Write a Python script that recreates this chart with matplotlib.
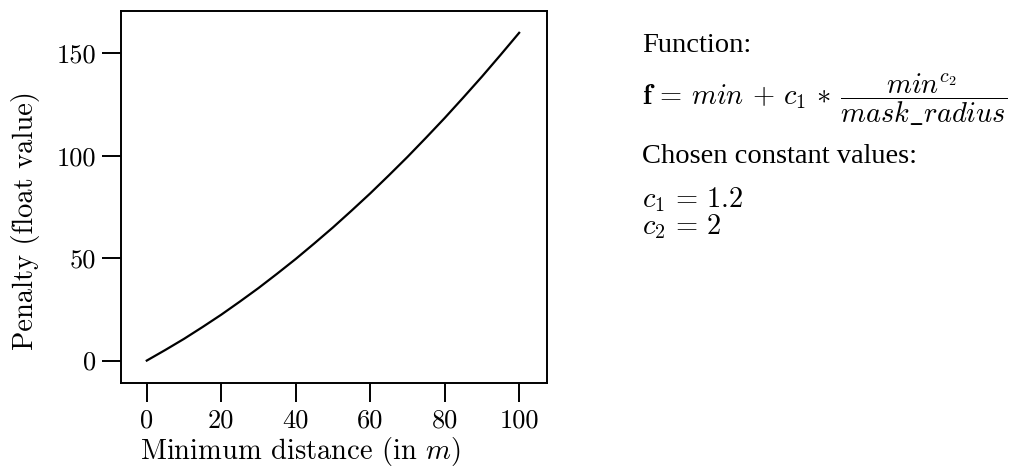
import matplotlib
matplotlib.use("Agg")
import matplotlib.pyplot as plt

# Penalty curve sampled along the minimum distance
min_distance = [0, 5, 10, 15, 20, 25, 30, 35, 40, 45, 50,
                55, 60, 65, 70, 75, 80, 85, 90, 95, 100]
penalty = [0.0, 5.2, 10.6, 16.4, 22.4, 28.8, 35.4, 42.4, 49.6, 57.2, 65.0,
           73.2, 81.6, 90.4, 99.4, 108.8, 118.4, 128.4, 138.6, 149.2, 160.0]

x_ticks = [0, 20, 40, 60, 80, 100]
y_ticks = [0, 50, 100, 150]

plt.rcParams["mathtext.fontset"] = "cm"

W, H = 1011, 468
fig = plt.figure(figsize=(W / 100, H / 100), dpi=100)
ax = fig.add_axes([120.7 / W, 1 - 382.7 / H, (546.7 - 120.7) / W, (382.7 - 10.7) / H])

ax.plot(min_distance, penalty, color="black", linewidth=1.6)
ax.set_xlim(-7.0, 107.4)
ax.set_ylim(-10.8, 170.8)

ax.set_xticks(x_ticks, labels=[str(t) for t in x_ticks])
ax.set_yticks(y_ticks, labels=[str(t) for t in y_ticks])
ax.tick_params(axis="both", direction="out", length=13.5, width=1.4,
               labelsize=19)
ax.tick_params(axis="x", pad=5)
ax.tick_params(axis="y", pad=4)
for lab in ax.get_xticklabels() + ax.get_yticklabels():
    lab.set_fontfamily("cmr10")
for sp in ax.spines.values():
    sp.set_linewidth(1.4)

ax.set_xlabel("Minimum distance (in $m$)", fontsize=20.5, fontfamily="cmr10")
ax.set_ylabel("Penalty (float value)", fontsize=20.5, fontfamily="cmr10")
ax.xaxis.set_label_coords(0.421, -0.14)
ax.yaxis.set_label_coords(-0.19, 0.437)

# Function description on the right
tx = 641.7 / W
fig.text(tx, 1 - 51.7 / H, "Function:", fontsize=20.5,
         fontfamily="Liberation Serif", va="baseline")
fig.text(tx, 1 - 100 / H,
         r"$\mathbf{f}\,=\,min\,+\,c_1\,*\,\dfrac{min^{c_2}}{mask\_radius}$",
         fontsize=20.5, va="center")
fig.text(tx, 1 - 163 / H, "Chosen constant values:", fontsize=20.5,
         fontfamily="Liberation Serif", va="baseline")
fig.text(tx, 1 - 207 / H, r"$c_1\,=\,1.2$", fontsize=20.5, va="baseline")
fig.text(tx, 1 - 234 / H, r"$c_2\,=\,2$", fontsize=20.5, va="baseline")

fig.savefig("out.png", dpi=100)
